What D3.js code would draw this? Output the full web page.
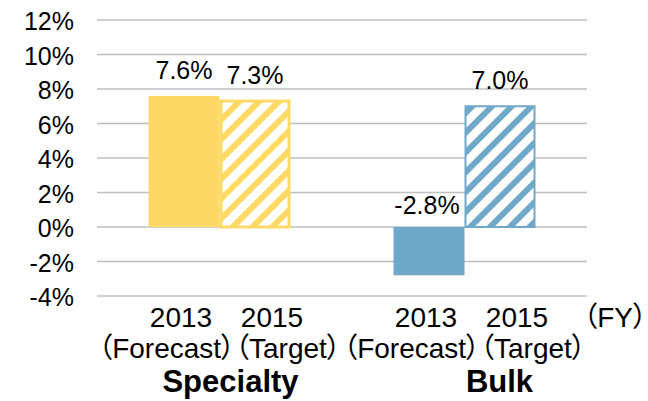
<!DOCTYPE html>
<html>
<head>
<meta charset="utf-8">
<script src="https://cdn.jsdelivr.net/npm/d3@7"></script>
<style>
  body { margin: 0; background: #fff; }
  svg text { font-family: "Liberation Sans", Arial, "Noto Sans CJK JP", sans-serif; fill: #000; font-feature-settings: "palt"; }
</style>
</head>
<body>
<div id="chart"></div>
<script>
// chart data
var groups = ["Specialty", "Bulk"];
var series = ["Forecast", "Target"];
var years = ["2013", "2015"];
var yearNotes = ["（Forecast）", "（Target）"];
var specialtyValues = [7.6, 7.3];
var bulkValues = [-2.8, 7.0];
var valueLabels = [["7.6%", "7.3%"], ["-2.8%", "7.0%"]];
var yTicks = [-4, -2, 0, 2, 4, 6, 8, 10, 12];
var unitLabel = "（FY）";

function program() {

    var width = 648,
        height = 401;

    var colors = ["#FFD966", "#6FA8C8"];
    var allValues = [specialtyValues, bulkValues];

    var svg = d3.select("#chart")
        .append("svg")
        .attr("width", width)
        .attr("height", height);

    var x = d3.scaleBand()
        .domain(groups)
        .range([97, 587]);

    var barW = 71;
    var xSub = d3.scaleBand()
        .domain(series)
        .range([x.bandwidth() / 2 - barW, x.bandwidth() / 2 + barW]);

    var y = d3.scaleLinear()
        .domain([-4, 12])
        .range([296, 20]);

    // hatch patterns
    var defs = svg.append("defs");
    colors.forEach(function(c, i) {
        var p = defs.append("pattern")
            .attr("id", "hatch" + i)
            .attr("patternUnits", "userSpaceOnUse")
            .attr("width", 14)
            .attr("height", 14)
            .attr("patternTransform", "rotate(45)");
        p.append("rect").attr("width", 14).attr("height", 14).attr("fill", "#fff");
        p.append("rect").attr("width", 6).attr("height", 14).attr("fill", c);
    });

    // gridlines
    svg.append("g")
        .selectAll("line")
        .data(yTicks)
        .join("line")
        .attr("x1", 97)
        .attr("x2", 587)
        .attr("y1", function(d) { return y(d); })
        .attr("y2", function(d) { return y(d); })
        .attr("stroke", "#c0c0c0")
        .attr("stroke-width", 1.5);

    // y tick labels
    svg.append("g")
        .selectAll("text")
        .data(yTicks)
        .join("text")
        .attr("x", 74)
        .attr("y", function(d) { return y(d) + 10; })
        .attr("text-anchor", "end")
        .style("font-size", "25px")
        .text(function(d) { return d + "%"; });

    // bars
    var bars = [];
    groups.forEach(function(g, gi) {
        series.forEach(function(s, si) {
            bars.push({ group: g, gi: gi, series: s, si: si, value: allValues[gi][si], label: valueLabels[gi][si] });
        });
    });

    svg.append("g")
        .selectAll("rect")
        .data(bars)
        .join("rect")
        .attr("x", function(d) {
            var sw = d.si === 1 ? (d.gi === 0 ? 3 : 2) : 0;
            return x(d.group) + xSub(d.series) + sw / 2;
        })
        .attr("y", function(d) { return y(Math.max(d.value, 0)); })
        .attr("width", function(d) {
            var sw = d.si === 1 ? (d.gi === 0 ? 3 : 2) : 0;
            return xSub.bandwidth() - sw;
        })
        .attr("height", function(d) { return Math.abs(y(d.value) - y(0)); })
        .attr("fill", function(d) { return d.si === 0 ? colors[d.gi] : "url(#hatch" + d.gi + ")"; })
        .attr("stroke", function(d) { return d.si === 1 ? colors[d.gi] : "none"; })
        .attr("stroke-width", function(d) { return d.gi === 0 ? 3 : 2; });

    // value labels
    svg.append("g")
        .selectAll("text")
        .data(bars)
        .join("text")
        .attr("x", function(d) { return x(d.group) + xSub(d.series) + xSub.bandwidth() / 2 - (d.value < 0 ? 2 : 0); })
        .attr("y", function(d) { return y(Math.max(d.value, 0)) - (d.value < 0 ? 13 : 17); })
        .attr("text-anchor", "middle")
        .style("font-size", "25px")
        .text(function(d) { return d.label; });

    // category labels, line 1: years
    svg.append("g")
        .selectAll("text")
        .data(bars)
        .join("text")
        .attr("x", function(d) {
            return x(d.group) + xSub(d.series) + xSub.bandwidth() / 2 + (d.si === 1 ? 17 : -3);
        })
        .attr("y", 327)
        .attr("text-anchor", "middle")
        .style("font-size", "28px")
        .text(function(d) { return years[d.si]; });

    // line 2: forecast / target notes
    svg.append("g")
        .selectAll("text")
        .data(groups)
        .join("text")
        .attr("x", function(d) { return x(d) + x.bandwidth() / 2; })
        .attr("y", 358)
        .attr("text-anchor", "middle")
        .style("font-size", "28px")
        .text(yearNotes.join(""));

    // group names
    svg.append("g")
        .selectAll("text")
        .data(groups)
        .join("text")
        .attr("x", function(d, i) { return x(d) + x.bandwidth() / 2 + (i === 0 ? 11 : 35); })
        .attr("y", 392)
        .attr("text-anchor", "middle")
        .style("font-size", "31px")
        .style("font-weight", "bold")
        .text(function(d) { return d; });

    svg.append("text")
        .attr("x", 647)
        .attr("y", 327)
        .attr("text-anchor", "end")
        .style("font-size", "28px")
        .text(unitLabel);
}

program();
</script>
</body>
</html>
